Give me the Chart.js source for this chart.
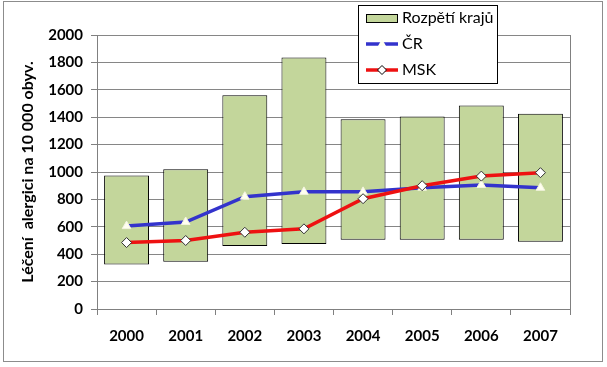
<!DOCTYPE html>
<html><head><meta charset="utf-8">
<script src="https://cdn.jsdelivr.net/npm/chart.js@4/dist/chart.umd.min.js"></script>
<style>html,body{margin:0;padding:0;background:#fff}#wrap{width:607px;height:367px;position:relative}</style>
</head><body><div id="wrap"><canvas id="c" width="607" height="367"></canvas></div>
<script>
const years = ['2000','2001','2002','2003','2004','2005','2006','2007'];
const rangeMin = [325, 345, 460, 475, 505, 505, 505, 490];
const rangeMax = [975, 1020, 1560, 1835, 1385, 1405, 1485, 1425];
const crValues = [605, 635, 820, 855, 855, 885, 905, 885];
const mskValues = [485, 500, 560, 585, 805, 900, 970, 995];
const yTicks = [0,200,400,600,800,1000,1200,1400,1600,1800,2000];
const labels = {range:'Rozpětí krajů', cr:'ČR', msk:'MSK', yTitle:'Léčení  alergici na 10 000 obyv.'};

const FONT = 'Lato, "Open Sans", sans-serif';
const GREEN = '#c3d69b', BLUE = '#3333cc', RED = '#ee1111';

const framePlugin = {
  id:'frame',
  beforeDraw(chart){
    const c = chart.ctx;
    c.save();
    c.fillStyle='#fff'; c.fillRect(0,0,chart.width,chart.height);
    c.strokeStyle='#8c8c8c'; c.lineWidth=1;
    c.strokeRect(3.5,1.5,599,360);
    c.restore();
  },
  afterDatasetsDraw(chart){
    const a = chart.chartArea, c = chart.ctx;
    c.save();
    c.strokeStyle='#808080'; c.lineWidth=1;
    c.beginPath();
    c.moveTo(Math.round(a.right)+0.5, a.top); c.lineTo(Math.round(a.right)+0.5, a.bottom);
    c.stroke();
    c.restore();
  },
  afterDraw(chart){
    const c = chart.ctx;
    c.save();
    const bx=358, by=5, bw=139, bh=78;
    c.fillStyle='#fff'; c.fillRect(bx,by,bw,bh);
    c.strokeStyle='#000'; c.lineWidth=1;
    c.strokeRect(bx+0.5,by+0.5,bw,bh);
    c.font = '16px '+FONT; c.fillStyle='#000'; c.textBaseline='middle';
    c.fillStyle=GREEN; c.fillRect(366,14,32,9);
    c.strokeStyle='#000'; c.strokeRect(366.5,14.5,31,8);
    c.fillStyle='#000'; c.fillText(labels.range,402,18);
    c.strokeStyle=BLUE; c.lineWidth=3.5;
    c.beginPath(); c.moveTo(366,44); c.lineTo(398,44); c.stroke();
    c.fillStyle='#fffff0'; c.beginPath(); c.moveTo(382,39); c.lineTo(386,46); c.lineTo(378,46); c.closePath(); c.fill();
    c.fillStyle='#000'; c.fillText(labels.cr,402,44);
    c.strokeStyle=RED; c.lineWidth=3.5;
    c.beginPath(); c.moveTo(366,70); c.lineTo(398,70); c.stroke();
    c.fillStyle='#fff'; c.strokeStyle='#000'; c.lineWidth=1;
    c.beginPath(); c.moveTo(382,65.5); c.lineTo(386.5,70); c.lineTo(382,74.5); c.lineTo(377.5,70); c.closePath(); c.fill(); c.stroke();
    c.fillStyle='#000'; c.fillText(labels.msk,402,70);
    c.restore();
  }
};

new Chart(document.getElementById('c'), {
  data:{
    labels: years,
    datasets:[
      {type:'bar', label:labels.range, data: years.map((_,i)=>[rangeMin[i], rangeMax[i]]),
       backgroundColor:GREEN, borderColor:'#000', borderWidth:1, borderSkipped:false,
       barPercentage:0.76, categoryPercentage:1, order:3},
      {type:'line', label:labels.cr, data: crValues, borderColor:BLUE, borderWidth:3.5,
       pointStyle:'triangle', pointRadius:5, pointBackgroundColor:'#fffff0', pointBorderColor:'#f4f4e0', pointBorderWidth:1,
       tension:0, order:2},
      {type:'line', label:labels.msk, data: mskValues, borderColor:RED, borderWidth:3.5,
       pointStyle:'rectRot', pointRadius:5, pointBackgroundColor:'#fff', pointBorderColor:'#333', pointBorderWidth:1,
       tension:0, order:1}
    ]
  },
  options:{
    responsive:false, animation:false,
    layout:{padding:{left:0, right:37, top:35, bottom:0}},
    plugins:{legend:{display:false}, tooltip:{enabled:false}},
    scales:{
      x:{
        grid:{offset:true, drawOnChartArea:false, color:'#808080', tickLength:6, tickColor:'#808080'},
        border:{color:'#808080'},
        ticks:{font:{family:FONT, size:15, weight:'bold'}, color:'#000', padding:12},
        afterFit(s){ s.height = 58; }
      },
      y:{
        min:0, max:2000,
        afterBuildTicks(s){ s.ticks = yTicks.map(v=>({value:v})); },
        grid:{color:'#868686', tickLength:6, tickColor:'#808080', drawTicks:true},
        border:{color:'#808080'},
        ticks:{font:{family:FONT, size:15, weight:'bold'}, color:'#000', padding:8, callback:(v)=>String(v)},
        title:{display:true, text:labels.yTitle, font:{family:FONT, size:16, weight:'bold'}, color:'#000', padding:{top:18,bottom:0}},
        afterFit(s){ s.width = 97; }
      }
    }
  },
  plugins:[framePlugin]
});
</script></body></html>
